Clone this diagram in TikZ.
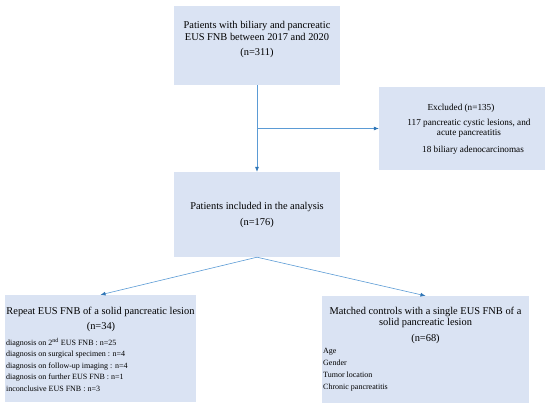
\documentclass[tikz,border=0pt]{standalone}
\usepackage{fontspec}
\setmainfont{Liberation Serif}
\usetikzlibrary{arrows.meta}
\definecolor{boxfill}{HTML}{DAE3F3}
\definecolor{linkline}{HTML}{5B9BD5}
\definecolor{linktip}{HTML}{2E75B6}

\begin{document}
\begin{tikzpicture}[x=1pt,y=-1pt,
  box/.style={fill=boxfill, draw=none, inner sep=0pt},
  bigtxt/.style={font=\fontsize{10.4}{12}\selectfont, align=center, inner sep=0pt},
  exctxt/.style={font=\fontsize{9.2}{9.5}\selectfont, align=center, inner sep=0pt},
  smalltxt/.style={font=\fontsize{8}{11.5}\selectfont, align=left, inner sep=0pt, anchor=west},
  link/.style={draw=linkline, line width=0.6pt, -{Latex[length=5pt,width=4pt,color=linktip]}}]
  \useasboundingbox (0,0) rectangle (550,410);

  \coordinate (TopC) at (257,45.5);
  \coordinate (ExcC) at (462,128.5);
  \coordinate (MidC) at (257,214.5);
  \coordinate (LftC) at (100.5,348.5);
  \coordinate (RgtC) at (425.5,349.5);

  \node[box, minimum width=166pt, minimum height=79pt] (top) at (TopC) {};
  \node[box, minimum width=166pt, minimum height=83pt] (excl) at (ExcC) {};
  \node[box, minimum width=166pt, minimum height=85pt] (mid) at (MidC) {};
  \node[box, minimum width=191pt, minimum height=107pt] (lbox) at (LftC) {};
  \node[box, minimum width=207pt, minimum height=107pt] (rbox) at (RgtC) {};

  \node[bigtxt] (topA) at (257,31) {Patients with biliary and pancreatic\\EUS FNB between 2017 and 2020};
  \node[bigtxt] (topB) at (257,53) {(n=311)};

  \node[exctxt] (excA) at (461,108) {Excluded (n=135)};
  \node[exctxt] (excB) at (469,128.5) {117 pancreatic cystic lesions, and\\acute pancreatitis};
  \node[exctxt] (excC) at (473,150) {18 biliary adenocarcinomas};

  \node[bigtxt] (midA) at (257,207) {Patients included in the analysis};
  \node[bigtxt] (midB) at (257,223) {(n=176)};

  \node[bigtxt] (lftA) at (100.5,312) {Repeat EUS FNB of a solid pancreatic lesion};
  \node[bigtxt] (lftB) at (101,327) {(n=34)};
  \node[smalltxt] (lftL) at (6,365) {diagnosis on 2\textsuperscript{nd} EUS FNB : n=25\\
    diagnosis on surgical specimen : n=4\\
    diagnosis on follow-up imaging : n=4\\
    diagnosis on further EUS FNB : n=1\\
    inconclusive EUS FNB : n=3};

  \node[bigtxt, font=\fontsize{10.4}{11}\selectfont] (rgtA) at (425.5,317.5) {Matched controls with a single EUS FNB of a\\solid pancreatic lesion};
  \node[bigtxt] (rgtB) at (425.5,339) {(n=68)};
  \node[smalltxt, font=\fontsize{8}{12}\selectfont] (rgtL) at (323,370) {Age\\Gender\\Tumor location\\Chronic pancreatitis};

  \coordinate (split) at (top.south |- excl.west);
  \draw[link] (top.south) -- (mid.north);
  \draw[link] (split) -- (excl.west);
  \draw[link] (mid.south) -- (lbox.north);
  \draw[link] (mid.south) -- (rbox.north);
\end{tikzpicture}
\end{document}
